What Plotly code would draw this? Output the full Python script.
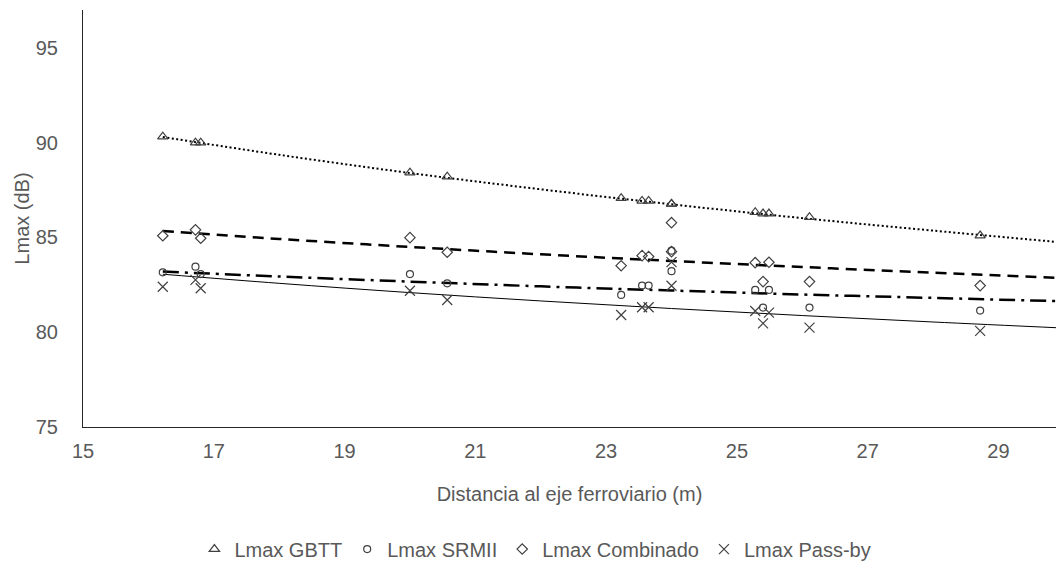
import plotly.graph_objects as go

# Distance to the rail axis (m) for each measurement
distancia = [16.22, 16.72, 16.80, 20.00, 20.57, 23.23, 23.55, 23.65, 24.00, 24.00,
             25.28, 25.40, 25.49, 26.11, 28.72]

lmax_gbtt = [90.32, 90.00, 90.00, 88.42, 88.21, 87.07, 86.93, 86.93, 86.77, 86.77,
             86.33, 86.26, 86.26, 86.07, 85.10]
lmax_srmii = [83.16, 83.46, 83.07, 83.07, 82.58, 81.97, 82.46, 82.46, 84.30, 83.22,
              82.23, 81.30, 82.23, 81.30, 81.14]
lmax_combinado = [85.09, 85.40, 84.96, 84.99, 84.22, 83.51, 84.04, 83.99, 85.78, 84.25,
                  83.67, 82.67, 83.69, 82.67, 82.46]
lmax_passby = [82.40, 82.76, 82.32, 82.19, 81.70, 80.91, 81.32, 81.32, 83.70, 82.45,
               81.12, 80.47, 81.03, 80.24, 80.07]

# Trendlines (logarithmic in the original)
trend_x = [16.22, 18.0, 20.0, 22.0, 24.0, 26.0, 28.0, 30.0]
trend_gbtt = [90.30, 89.36, 88.40, 87.54, 86.75, 86.02, 85.36, 84.73]
trend_srmii = [83.20, 82.94, 82.67, 82.42, 82.20, 81.99, 81.81, 81.63]
trend_combinado = [85.34, 84.92, 84.50, 84.11, 83.76, 83.44, 83.14, 82.86]
trend_passby = [83.06, 82.58, 82.09, 81.65, 81.25, 80.88, 80.54, 80.22]

x_ticks = [15, 17, 19, 21, 23, 25, 27, 29]
y_ticks = [75, 80, 85, 90, 95]

series = [
    ("Lmax GBTT", lmax_gbtt, trend_gbtt, "triangle-up-open", 9, dict(dash="2px,2.5px", width=2)),
    ("Lmax SRMII", lmax_srmii, trend_srmii, "circle-open", 7, dict(dash="16px,6px,3px,6px", width=2.5)),
    ("Lmax Combinado", lmax_combinado, trend_combinado, "diamond-open", 8, dict(dash="11px,7px", width=2.5)),
    ("Lmax Pass-by", lmax_passby, trend_passby, "x-thin-open", 10, dict(dash="solid", width=1)),
]

TEXT = "#595959"
MARK = "#404040"
FONT = "Liberation Sans, Arial, sans-serif"
FS = 20

fig = go.Figure()
for name, vals, trend, sym, size, line in series:
    fig.add_trace(go.Scatter(
        x=trend_x, y=trend, mode="lines", line=dict(color="black", shape="spline", **line),
        showlegend=False, hoverinfo="skip"))
for name, vals, trend, sym, size, line in series:
    fig.add_trace(go.Scatter(
        x=distancia, y=vals, mode="markers", name=name,
        marker=dict(symbol=sym, size=size, color=MARK, line=dict(color=MARK, width=1.2))))

fig.update_layout(
    width=1056, height=562,
    margin=dict(l=83, r=0, t=10, b=135),
    paper_bgcolor="white", plot_bgcolor="white",
    font=dict(family=FONT, size=FS, color=TEXT),
    showlegend=True,
    legend=dict(orientation="h", xref="container", yref="container",
                x=0.507, xanchor="center", y=0.023, yanchor="middle",
                font=dict(size=FS, color=TEXT), itemwidth=30, bgcolor="rgba(0,0,0,0)"),
)
fig.update_xaxes(
    range=[15, 29.88], tickvals=x_ticks, ticktext=[str(t) for t in x_ticks],
    showgrid=False, zeroline=False, showline=True, linecolor="#262626", linewidth=1,
    ticks="", ticklabelstandoff=6, automargin=False,
    title=dict(text="Distancia al eje ferroviario (m)", standoff=25, font=dict(size=FS, color=TEXT)),
)
fig.update_yaxes(
    range=[75, 97], tickvals=y_ticks, ticktext=[str(t) for t in y_ticks],
    showgrid=False, zeroline=False, showline=True, linecolor="#262626", linewidth=1,
    ticks="", ticklabelstandoff=20, automargin=False,
    title=dict(text="Lmax (dB)", standoff=0, font=dict(size=FS, color=TEXT)),
)

fig.write_html("out.html", config={"displayModeBar": False},
               post_script="document.body.style.margin='0';")
